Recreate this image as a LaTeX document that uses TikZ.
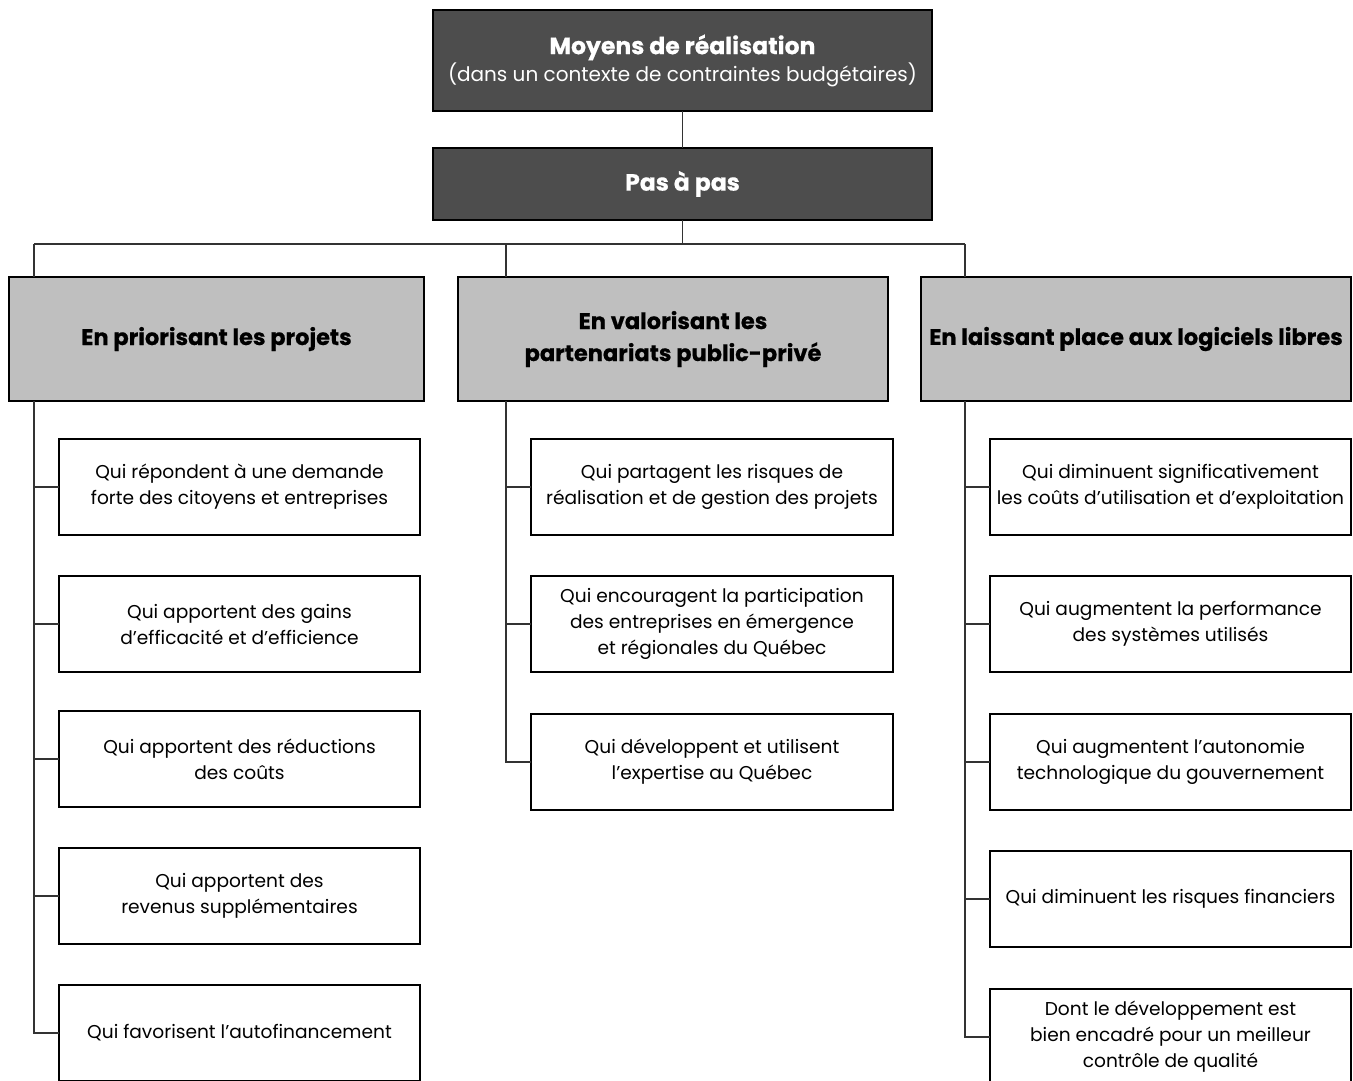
\documentclass[tikz,border=0pt]{standalone}
\usepackage{fontspec}
\setmainfont{Poppins}[BoldFeatures={FakeBold=0.6}]
\usetikzlibrary{calc}
\definecolor{darkfill}{HTML}{4D4D4D}
\definecolor{midfill}{HTML}{BFBFBF}
\definecolor{linkcol}{HTML}{333333}
\tikzset{
  boxbase/.style={draw=black, line width=1.3pt, inner sep=0pt, outer sep=0pt,
    anchor=north west, align=center},
  titlebox/.style={boxbase, fill=darkfill, text=white, minimum width=499pt},
  headbox/.style={boxbase, fill=midfill, minimum height=124pt,
    font=\bfseries\fontsize{22.5}{32}\selectfont},
  leafbox/.style={boxbase, fill=white, minimum width=361pt, minimum height=96pt,
    font=\fontsize{18.6}{26}\selectfont},
  link/.style={draw=linkcol, line width=1.3pt}
}
\begin{document}
\begin{tikzpicture}[x=1pt,y=-1pt]
\useasboundingbox[fill=white] (0,0) rectangle (1353,1080);

% top of the hierarchy
\node[titlebox, minimum height=101pt] (top) at (433,10)
  {{\bfseries\fontsize{23.5}{32}\selectfont Moyens de réalisation}\\[1pt]
   {\fontsize{20}{26}\selectfont (dans un contexte de contraintes budgétaires)}};
\node[titlebox, minimum height=72pt, font=\bfseries\fontsize{23.5}{32}\selectfont]
  (pas) at (433,148) {Pas à pas};

% three strategies
\node[headbox, minimum width=415pt] (A) at (9,277) {En priorisant les projets};
\node[headbox, minimum width=430pt] (B) at (458,277) {En valorisant les\\partenariats public-privé};
\node[headbox, minimum width=430pt] (C) at (921,277) {En laissant place aux logiciels libres};

% branch points on the distribution bar
\coordinate (ja) at (34,244);
\coordinate (jb) at (506,244);
\coordinate (jc) at (965,244);
\coordinate (hub) at (pas.south |- ja);

% children of the first strategy
\node[leafbox] (a1) at (59,439) {Qui répondent à une demande\\forte des citoyens et entreprises};
\node[leafbox] (a2) at (59,576) {Qui apportent des gains\\d’efficacité et d’efficience};
\node[leafbox] (a3) at (59,711) {Qui apportent des réductions\\des coûts};
\node[leafbox] (a4) at (59,848) {Qui apportent des\\revenus supplémentaires};
\node[leafbox] (a5) at (59,985) {Qui favorisent l’autofinancement};

% children of the second strategy
\node[leafbox, minimum width=362pt] (b1) at (531,439) {Qui partagent les risques de\\réalisation et de gestion des projets};
\node[leafbox, minimum width=362pt] (b2) at (531,576) {Qui encouragent la participation\\des entreprises en émergence\\et régionales du Québec};
\node[leafbox, minimum width=362pt] (b3) at (531,714) {Qui développent et utilisent\\l’expertise au Québec};

% children of the third strategy
\node[leafbox] (c1) at (990,439) {Qui diminuent significativement\\les coûts d’utilisation et d’exploitation};
\node[leafbox] (c2) at (990,576) {Qui augmentent la performance\\des systèmes utilisés};
\node[leafbox] (c3) at (990,714) {Qui augmentent l’autonomie\\technologique du gouvernement};
\node[leafbox] (c4) at (990,851) {Qui diminuent les risques financiers};
\node[leafbox] (c5) at (990,989) {Dont le développement est\\bien encadré pour un meilleur\\contrôle de qualité};

% connectors
\draw[link] (top.south) -- (pas.north);
\draw[link] (pas.south) -- (hub);
\draw[link] (ja) -- (jc);
\draw[link] (ja) -- (ja |- A.north);
\draw[link] (jb) -- (jb |- B.north);
\draw[link] (jc) -- (jc |- C.north);

\draw[link] (A.south -| ja) -- (ja |- a5.west) -- (a5.west);
\foreach \n in {a1,a2,a3,a4} \draw[link] (ja |- \n.west) -- (\n.west);

\draw[link] (B.south -| jb) -- (jb |- b3.west) -- (b3.west);
\foreach \n in {b1,b2} \draw[link] (jb |- \n.west) -- (\n.west);

\draw[link] (C.south -| jc) -- (jc |- c5.west) -- (c5.west);
\foreach \n in {c1,c2,c3,c4} \draw[link] (jc |- \n.west) -- (\n.west);
\end{tikzpicture}
\end{document}
